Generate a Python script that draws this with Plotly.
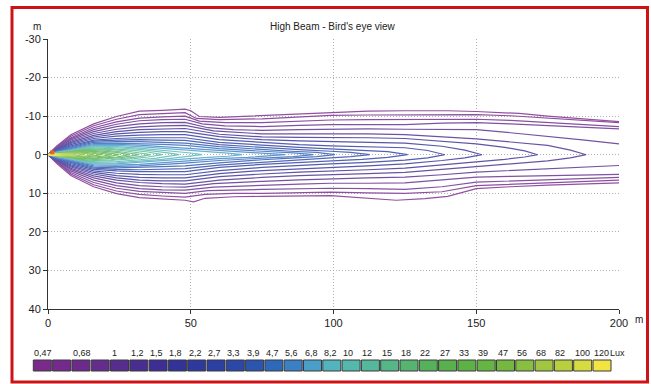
import plotly.graph_objects as go

# ---------------- data ----------------
lux_levels = [0.47, 0.56, 0.68, 0.82, 1, 1.2, 1.5, 1.8, 2.2, 2.7, 3.3, 3.9, 4.7, 5.6, 6.8,
              8.2, 10, 12, 15, 18, 22, 27, 33, 39, 47, 56, 68, 82, 100, 120]
lux_labels = ["0,47", "", "0,68", "", "1", "1,2", "1,5", "1,8", "2,2", "2,7", "3,3", "3,9",
              "4,7", "5,6", "6,8", "8,2", "10", "12", "15", "18", "22", "27", "33", "39",
              "47", "56", "68", "82", "100", "120"]
lux_colors = ["#7b2a8c", "#742a8c", "#6c2b8c", "#632c8d", "#562c8e", "#4a2d90", "#3c2e94",
              "#333299", "#2e389d", "#2c3fa2", "#2b47a7", "#2b55af", "#2e68ba", "#3a80c4",
              "#4a9fc8", "#52b5bd", "#54b8ad", "#55b89c", "#55b787", "#55b46f", "#56b25a",
              "#58b14c", "#5db246", "#66b443", "#74b841", "#88bf40", "#a0c73f", "#b9d03e",
              "#d6dc3f", "#f1e443"]

x_ticks = [0, 50, 100, 150, 200]
y_ticks = [-30, -20, -10, 0, 10, 20, 30, 40]
y_tick_text = ["-30", "-20", "-10", "0", "10", "20", "30", "40"]

# isolux lines (distance m, lateral m)
iso_047 = [(200,7.3),(188,7.5),(175,7.9),(162,8.3),(150,8.8),(140,10.8),(132,11.4),(122,11.8),(110,11.1),(99,10.6),(75,10.8),(65,10.9),(55,11.3),(51,12.2),(48,11.8),(40,11.5),(32,11.1),(24,10.1),(16,8.3),(8,5.4),(3,2.2),(0,0),(3,-2.2),(8,-5.2),(16,-8.0),(24,-9.9),(32,-11.3),(40,-11.5),(48,-11.8),(50,-11.4),(53,-9.9),(60,-9.7),(75,-10.2),(88,-10.6),(99,-11.0),(112,-11.3),(125,-11.4),(140,-11.4),(150,-11.2),(165,-10.7),(175,-10.0),(188,-9.3),(200,-8.6)]
iso_056 = [(200,6.6),(188,6.9),(175,7.2),(162,7.6),(150,8.0),(138,9.6),(125,10.0),(112,9.9),(99,9.7),(75,10.0),(65,10.0),(55,10.3),(48,11.0),(40,10.7),(32,10.3),(24,9.4),(16,7.8),(8,5.0),(3,2.0),(0,0),(3,-2.0),(8,-4.8),(16,-7.5),(24,-9.2),(32,-10.4),(40,-10.7),(48,-10.9),(52,-9.4),(60,-9.1),(75,-9.3),(88,-9.8),(99,-10.2),(112,-10.3),(125,-10.4),(140,-10.5),(150,-10.4),(162,-10.1),(175,-9.5),(188,-8.9),(200,-8.3)]
iso_068 = [(200,5.9),(188,6.2),(175,6.5),(162,6.8),(150,7.1),(138,8.3),(125,9.0),(112,8.8),(99,8.7),(75,9.0),(56,9.3),(48,10.0),(40,9.8),(32,9.5),(24,8.7),(16,7.2),(8,4.6),(3,1.9),(0,0),(3,-1.9),(8,-4.4),(16,-7.0),(24,-8.5),(32,-9.5),(40,-9.8),(48,-10.0),(53,-8.7),(62,-8.3),(75,-8.3),(88,-8.7),(99,-9.0),(112,-9.1),(125,-9.2),(138,-9.3),(150,-9.2),(162,-8.9),(175,-8.4),(188,-7.9),(200,-7.3)]
iso_082 = [(200,5.1),(188,5.2),(175,5.4),(162,5.6),(150,5.8),(138,6.6),(125,7.3),(112,7.4),(99,7.4),(88,7.6),(75,8.0),(58,8.4),(48,9.2),(40,9.1),(32,8.8),(24,8.0),(16,6.6),(8,4.2),(3,1.8),(0,0),(3,-1.8),(8,-4.1),(16,-6.5),(24,-7.9),(32,-8.8),(40,-9.1),(48,-9.2),(54,-8.0),(62,-7.5),(75,-7.3),(88,-7.6),(99,-7.8),(112,-7.8),(125,-7.8),(138,-8.2),(150,-8.3),(162,-8.0),(175,-7.6),(188,-7.2),(200,-6.7)]
iso_1 = [(200,2.8),(188,3.2),(175,3.6),(162,4.0),(150,4.5),(138,5.2),(125,5.8),(112,6.0),(99,6.2),(88,6.5),(75,6.9),(58,7.5),(48,8.4),(40,8.3),(32,8.0),(24,7.3),(16,6.0),(8,3.8),(3,1.6),(0,0),(3,-1.6),(8,-3.8),(16,-6.0),(24,-7.3),(32,-8.0),(40,-8.3),(48,-8.4),(56,-7.0),(65,-6.5),(75,-6.3),(88,-6.5),(99,-6.6),(112,-6.7),(125,-6.6),(138,-6.6),(150,-6.5),(162,-5.7),(175,-4.8),(188,-3.8),(200,-2.8)]
iso_1_2 = [(188.5,0),(183,0.8),(175,1.6),(162,2.4),(150,3.2),(138,3.9),(125,4.6),(112,4.9),(99,5.1),(88,5.4),(75,5.9),(60,6.6),(48,7.6),(40,7.5),(32,7.2),(24,6.6),(16,5.5),(8,3.5),(3,1.5),(0,0),(3,-1.5),(8,-3.5),(16,-5.5),(24,-6.6),(32,-7.2),(40,-7.5),(48,-7.6),(58,-6.2),(75,-5.4),(88,-5.4),(99,-5.5),(112,-5.4),(125,-5.2),(138,-4.7),(150,-4.1),(162,-3.3),(175,-2.4),(183,-1.2),(188.5,0)]
iso_1_5 = [(171.5,0),(167,0.6),(160,1.2),(150,1.8),(138,2.6),(125,3.5),(112,3.9),(99,4.2),(88,4.5),(75,5.0),(60,5.7),(48,6.8),(40,6.8),(32,6.6),(24,6.0),(16,5.0),(8,3.2),(3,1.4),(0,0),(3,-1.4),(8,-3.2),(16,-5.0),(24,-6.0),(32,-6.5),(40,-6.7),(48,-6.8),(60,-5.3),(75,-4.6),(88,-4.5),(99,-4.5),(112,-4.4),(125,-4.2),(138,-3.5),(150,-2.8),(160,-1.9),(167,-1.0),(171.5,0)]
iso_1_8 = [(152,0),(146,0.8),(138,1.5),(125,2.4),(112,2.9),(99,3.3),(88,3.6),(75,4.1),(60,4.9),(48,6.0),(40,6.0),(32,5.9),(24,5.4),(16,4.6),(8,2.9),(3,1.3),(0,0),(3,-1.3),(8,-2.9),(16,-4.6),(24,-5.4),(32,-5.8),(40,-6.0),(48,-6.0),(60,-4.7),(75,-3.9),(88,-3.6),(99,-3.4),(112,-3.2),(125,-3.0),(138,-2.2),(146,-1.2),(152,0)]
iso_2_2 = [(139,0),(133,0.8),(125,1.4),(112,2.0),(99,2.4),(88,2.8),(75,3.3),(60,4.1),(48,5.2),(40,5.2),(32,5.1),(24,4.8),(16,4.2),(8,2.6),(3,1.2),(0,0),(3,-1.2),(8,-2.6),(16,-4.2),(24,-4.8),(32,-5.1),(40,-5.2),(48,-5.2),(60,-3.9),(75,-3.1),(88,-2.6),(99,-2.3),(112,-2.1),(125,-1.8),(133,-1.1),(139,0)]
iso_2_7 = [(126,0),(119,0.7),(110,1.2),(99,1.6),(88,2.0),(75,2.5),(60,3.3),(48,4.4),(40,4.4),(32,4.4),(24,4.2),(16,3.8),(8,2.3),(3,1.1),(0,0),(3,-1.1),(8,-2.3),(16,-3.8),(24,-4.2),(32,-4.4),(40,-4.4),(48,-4.4),(60,-3.2),(75,-2.4),(88,-1.9),(99,-1.5),(110,-1.2),(119,-0.8),(126,0)]
iso_3_3 = [(112.7,0),(106,0.5),(99,0.8),(88,1.3),(75,1.9),(60,2.7),(48,3.6),(40,3.7),(32,3.9),(24,3.8),(16,3.5),(8,2.0),(3,1.0),(0,0),(3,-1.0),(8,-2.0),(16,-3.5),(24,-3.8),(32,-3.9),(40,-3.8),(48,-3.7),(60,-2.6),(75,-1.8),(88,-1.3),(99,-0.9),(106,-0.6),(112.7,0)]
iso_3_9 = [(100.5,0),(94,0.5),(85,0.9),(75,1.3),(60,2.1),(48,2.9),(40,3.1),(32,3.3),(24,3.4),(16,3.2),(8,1.8),(3,0.9),(0,0),(3,-0.9),(8,-1.8),(16,-3.2),(24,-3.4),(32,-3.4),(40,-3.2),(48,-3.0),(60,-2.1),(75,-1.3),(85,-0.9),(94,-0.6),(100.5,0)]
iso_4_7 = [(93,0),(86,0.5),(75,0.9),(60,1.5),(48,2.2),(40,2.6),(32,2.9),(24,3.0),(16,2.9),(8,1.6),(3,0.8),(0,0),(3,-0.8),(8,-1.6),(16,-2.9),(24,-3.0),(32,-2.9),(40,-2.7),(48,-2.4),(60,-1.6),(75,-0.9),(86,-0.5),(93,0)]
iso_5_6 = [(83,0),(77,0.4),(70,0.7),(60,1.0),(48,1.6),(40,2.0),(32,2.5),(24,2.7),(16,2.6),(8,1.4),(3,0.7),(0,0),(3,-0.7),(8,-1.4),(16,-2.6),(24,-2.7),(32,-2.5),(40,-2.1),(48,-1.7),(60,-1.1),(70,-0.7),(77,-0.4),(83,0)]
iso_6_8 = [(68,0),(63,0.4),(56,0.7),(48,1.1),(40,1.6),(32,2.1),(24,2.4),(16,2.4),(8,1.2),(3,0.6),(0,0),(3,-0.6),(8,-1.2),(16,-2.4),(24,-2.4),(32,-2.1),(40,-1.7),(48,-1.2),(56,-0.8),(63,-0.4),(68,0)]
iso_8_2 = [(54,0),(50,0.4),(46,0.7),(40,1.2),(32,1.7),(24,2.1),(16,2.2),(8,1.1),(3,0.55),(0,0),(3,-0.55),(8,-1.1),(16,-2.2),(24,-2.1),(32,-1.7),(40,-1.2),(46,-0.8),(50,-0.45),(54,0)]
iso_10 = [(46,0),(42,0.5),(38,0.9),(32,1.3),(24,1.8),(16,2.0),(8,1.0),(3,0.5),(0,0),(3,-0.5),(8,-1.0),(16,-2.0),(24,-1.8),(32,-1.4),(38,-0.9),(42,-0.5),(46,0)]
iso_12 = [(40,0),(35,0.6),(30,1.0),(22,1.5),(14,1.8),(8,0.9),(3,0.45),(0,0),(3,-0.45),(8,-0.9),(14,-1.8),(22,-1.6),(30,-1.1),(35,-0.7),(40,0)]
iso_15 = [(36,0),(32,0.5),(28,0.8),(22,1.3),(14,1.6),(8,0.8),(3,0.4),(0,0),(3,-0.4),(8,-0.8),(14,-1.6),(22,-1.4),(28,-0.9),(32,-0.5),(36,0)]
iso_18 = [(32,0),(26,0.7),(20,1.1),(13,1.4),(8,0.75),(3,0.38),(0,0),(3,-0.38),(8,-0.75),(13,-1.4),(20,-1.2),(26,-0.7),(32,0)]
iso_22 = [(28.6,0),(24,0.6),(18,0.9),(12,1.2),(8,0.7),(3,0.35),(0,0),(3,-0.35),(8,-0.7),(12,-1.2),(18,-1.0),(24,-0.6),(28.6,0)]
iso_27 = [(25,0),(21,0.5),(17,0.8),(11,1.0),(7,0.6),(3,0.32),(0,0),(3,-0.32),(7,-0.6),(11,-1.0),(17,-0.8),(21,-0.5),(25,0)]
iso_33 = [(22,0),(19,0.4),(15,0.65),(10,0.85),(7,0.55),(3,0.3),(0,0),(3,-0.3),(7,-0.55),(10,-0.85),(15,-0.7),(19,-0.4),(22,0)]
iso_39 = [(19,0),(14,0.5),(9,0.7),(6,0.5),(3,0.28),(0,0),(3,-0.28),(6,-0.5),(9,-0.7),(14,-0.55),(19,0)]
iso_47 = [(16,0),(13,0.35),(9,0.55),(6,0.45),(2.5,0.25),(0,0),(2.5,-0.25),(6,-0.45),(9,-0.55),(13,-0.35),(16,0)]
iso_56 = [(13,0),(8,0.45),(5,0.38),(2.5,0.22),(0,0),(2.5,-0.22),(5,-0.38),(8,-0.45),(13,0)]
iso_68 = [(10,0),(7,0.3),(5,0.32),(2,0.2),(0,0),(2,-0.2),(5,-0.32),(7,-0.3),(10,0)]
iso_82 = [(7,0),(4,0.25),(2,0.18),(0,0),(2,-0.18),(4,-0.25),(7,0)]
iso_100 = [(4.5,0),(3,0.18),(1.5,0.15),(0,0),(1.5,-0.15),(3,-0.18),(4.5,0)]
iso_120 = [(2.5,0),(1,0.12),(0,0),(1,-0.12),(2.5,0)]

lamp_x = [1.5]
lamp_y = [-0.6]

iso_lines = [iso_047, iso_056, iso_068, iso_082, iso_1, iso_1_2, iso_1_5, iso_1_8, iso_2_2,
             iso_2_7, iso_3_3, iso_3_9, iso_4_7, iso_5_6, iso_6_8, iso_8_2, iso_10, iso_12,
             iso_15, iso_18, iso_22, iso_27, iso_33, iso_39, iso_47, iso_56, iso_68, iso_82,
             iso_100, iso_120]

# ---------------- layout geometry (pixels) ----------------
W, H = 651, 384
ML, MR, MT, MB = 48, 32, 39, 75
PW, PH = W - ML - MR, H - MT - MB


def px_x(px):
    return (px - ML) / PW


def px_y(py):
    return (H - MB - py) / PH


def lighten(hex_color, f):
    h = hex_color.lstrip("#")
    r, g, b = (int(h[i:i + 2], 16) for i in (0, 2, 4))
    r, g, b = (round(c + (255 - c) * f) for c in (r, g, b))
    return f"rgb({r},{g},{b})"


FONT = "Liberation Sans"

fig = go.Figure()
for lvl, col, pts in zip(lux_levels, lux_colors, iso_lines):
    fig.add_trace(go.Scatter(
        x=[p[0] for p in pts], y=[p[1] for p in pts], mode="lines",
        line=dict(color=lighten(col, 0.18), width=1.2), hoverinfo="skip", showlegend=False,
        name=f"{lvl} Lux"))

fig.add_trace(go.Scatter(x=lamp_x, y=lamp_y, mode="markers",
                         marker=dict(color="#e8641e", size=4, symbol="square"),
                         hoverinfo="skip", showlegend=False))

shapes = []
annotations = []

# legend swatches
sw_left0, sw_pitch, sw_w, sw_top, sw_bot = 33.3, 19.3, 18.0, 360, 371
for i, (lab, col) in enumerate(zip(lux_labels, lux_colors)):
    x0 = sw_left0 + i * sw_pitch
    shapes.append(dict(type="rect", xref="paper", yref="paper",
                       x0=px_x(x0), x1=px_x(x0 + sw_w), y0=px_y(sw_bot), y1=px_y(sw_top),
                       fillcolor=col, line=dict(color="#3a3a3a", width=1)))
    if lab:
        annotations.append(dict(text=lab, xref="paper", yref="paper", x=px_x(x0 - 1),
                                y=px_y(353), xanchor="left", yanchor="middle",
                                showarrow=False, font=dict(family=FONT, size=9, color="#222")))
annotations.append(dict(text="Lux", xref="paper", yref="paper", x=px_x(607.5), y=px_y(353),
                        xanchor="left", yanchor="middle", showarrow=False,
                        font=dict(family=FONT, size=9, color="#222")))

# title and unit labels
annotations.append(dict(text="High Beam - Bird's eye view", xref="paper", yref="paper",
                        x=px_x(333), y=px_y(26), xanchor="center", yanchor="middle",
                        showarrow=False, font=dict(family=FONT, size=10, color="#222")))
annotations.append(dict(text="m", xref="paper", yref="paper", x=px_x(37), y=px_y(27),
                        xanchor="center", yanchor="middle", showarrow=False,
                        font=dict(family=FONT, size=10, color="#222")))
annotations.append(dict(text="m", xref="paper", yref="paper", x=px_x(639), y=px_y(319),
                        xanchor="center", yanchor="middle", showarrow=False,
                        font=dict(family=FONT, size=10, color="#222")))

# red frame
shapes.append(dict(type="rect", xref="paper", yref="paper", x0=px_x(12), x1=px_x(647.5),
                   y0=px_y(382), y1=px_y(7.5), line=dict(color="#cc1417", width=3),
                   fillcolor="rgba(0,0,0,0)", layer="above"))

fig.update_layout(
    width=W, height=H, margin=dict(l=ML, r=MR, t=MT, b=MB, pad=0),
    paper_bgcolor="white", plot_bgcolor="white",
    font=dict(family=FONT, size=11, color="#222"),
    shapes=shapes, annotations=annotations, showlegend=False,
)
axis_common = dict(ticks="outside", ticklen=4, tickcolor="#333", showline=True,
                   linecolor="#333", linewidth=1, showgrid=True, gridcolor="#b0b0b0",
                   griddash="1px,2px", gridwidth=1, zeroline=False,
                   tickfont=dict(family=FONT, size=11, color="#222"), fixedrange=True)
fig.update_xaxes(range=[0, 200], tickvals=x_ticks, **axis_common)
fig.update_yaxes(range=[40, -30], tickvals=y_ticks, ticktext=y_tick_text, **axis_common)

fig.write_html("out.html", config={"displayModeBar": False},
               post_script="document.body.style.margin='0px';document.body.style.overflow='hidden';")
